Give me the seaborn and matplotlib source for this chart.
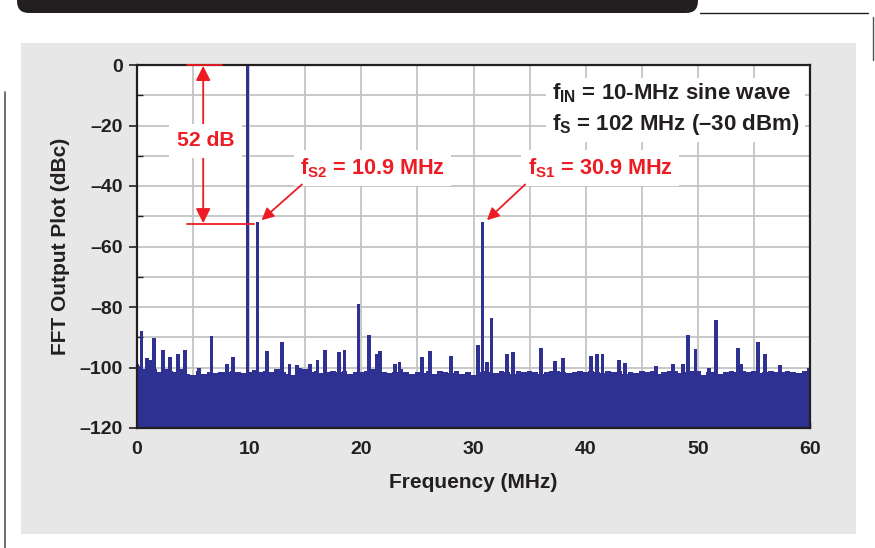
import numpy as np
import matplotlib
matplotlib.use("Agg")
import matplotlib.pyplot as plt
from matplotlib.patches import Rectangle, FancyBboxPatch
from matplotlib.lines import Line2D
from matplotlib.transforms import IdentityTransform
import seaborn as sns

# ---------------- data ----------------
# noise floor envelope, every 0.5 MHz from 0 to 60 MHz (dBc)
floor_freq = [i * 0.5 for i in range(121)]
floor_db = [
    -99.5, -100.5, -101.0, -100.5, -101.5, -100.5, -101.0, -101.5, -100.5, -102.0,
    -102.5, -101.0, -102.0, -101.5, -101.8, -101.5, -101.5, -101.0, -101.5, -101.8,
    -101.5, -100.8, -101.5, -101.0, -101.5, -100.5, -101.5, -102.0, -102.5, -100.0,
    -100.5, -101.5, -101.0, -101.8, -101.5, -101.0, -101.5, -101.0, -102.0, -101.5,
    -101.5, -101.0, -100.5, -101.0, -101.5, -101.8, -101.5, -100.5, -101.5, -102.0,
    -101.5, -101.8, -101.0, -102.0, -101.0, -101.5, -101.8, -101.0, -102.0, -101.5,
    -102.5, -101.5, -101.0, -101.5, -101.8, -101.0, -101.5, -102.0, -101.2, -101.5,
    -101.0, -101.5, -102.0, -101.5, -101.2, -101.0, -101.5, -101.8, -101.5, -101.2,
    -101.5, -101.0, -101.5, -101.8, -101.0, -101.5, -101.2, -102.0, -101.5, -101.8,
    -101.2, -101.5, -101.0, -102.0, -101.5, -101.0, -101.2, -101.8, -101.5, -101.0,
    -101.2, -102.5, -101.5, -101.5, -102.0, -101.5, -101.2, -101.5, -101.0, -101.5,
    -101.2, -101.8, -101.5, -101.2, -101.5, -101.5, -101.2, -101.5, -101.8, -101.0,
    -100.5,
]

# discrete spectral lines (MHz, dBc)
spur_freq = [
    0.0, 0.4, 0.9, 1.2, 1.5, 2.3, 2.95, 3.65, 4.3, 5.5, 6.65, 8.0, 8.55,
    9.85, 10.75, 11.6, 12.9, 13.6, 14.3, 15.4, 16.1, 16.75, 18.0, 18.5,
    19.75, 20.7, 21.4, 21.7, 23.0, 23.4, 25.4, 26.1, 28.0, 30.4, 30.8,
    31.2, 31.6, 33.0, 33.5, 36.0, 37.3, 38.0, 40.5, 41.0, 41.5, 43.0,
    43.5, 46.3, 47.8, 48.7, 49.15, 49.8, 51.0, 51.6, 53.6, 53.9, 55.4,
    56.0, 57.3, 59.9,
]
spur_db = [
    -99.0, -88.0, -97.0, -97.6, -90.3, -94.2, -96.5, -95.5, -94.2, -100.0, -89.6, -98.9, -96.6,
    0.0, -52.0, -94.5, -91.6, -98.9, -99.3, -98.9, -97.6, -94.2, -94.9, -94.2,
    -79.0, -89.3, -95.5, -94.6, -98.9, -98.3, -96.5, -94.5, -96.2, -92.5, -52.0,
    -98.2, -83.6, -95.5, -95.0, -93.7, -98.0, -97.0, -96.2, -95.5, -95.5, -97.4,
    -98.5, -99.5, -99.0, -99.0, -89.3, -93.9, -100.0, -84.3, -93.6, -99.0, -91.6,
    -95.5, -99.2, -100.0,
]

x_ticks = [0, 10, 20, 30, 40, 50, 60]
x_tick_labels = ["0", "10", "20", "30", "40", "50", "60"]
y_ticks = [0, -20, -40, -60, -80, -100, -120]
y_tick_labels = ["0", "\u201320", "\u201340", "\u201360", "\u201380", "\u2013100", "\u2013120"]

# ---------------- style ----------------
sns.set_theme(style="whitegrid")
plt.rcParams["font.family"] = ["Liberation Sans", "DejaVu Sans"]
plt.rcParams["font.weight"] = "bold"
plt.rcParams["mathtext.fontset"] = "custom"
plt.rcParams["mathtext.rm"] = "Liberation Sans:bold"
plt.rcParams["mathtext.bf"] = "Liberation Sans:bold"
plt.rcParams["mathtext.it"] = "Liberation Sans:bold"

NAVY = "#2e3192"
RED = "#ed1c24"
DARK = "#231f20"
GRID = "#c4c4c4"
PANEL = "#e6e7e6"

W, H = 875, 548
fig = plt.figure(figsize=(W / 100, H / 100), dpi=100, facecolor="white")
px = IdentityTransform()

# page decorations (pixel coordinates, origin bottom-left)
fig.patches.append(Rectangle((21, H - 534), 835, 491, transform=px,
                             facecolor=PANEL, edgecolor="none", zorder=0))
fig.patches.append(FancyBboxPatch((17, H - 13), 681, 40,
                                  boxstyle="round,pad=0,rounding_size=12",
                                  transform=px, facecolor=DARK,
                                  edgecolor="none", zorder=0))
fig.lines.append(Line2D([700, 868], [H - 12.5, H - 12.5], transform=px,
                        color=DARK, lw=1.0))
fig.lines.append(Line2D([873, 873], [H - 17, H - 60], transform=px,
                        color="#555555", lw=1.0))
fig.lines.append(Line2D([5, 5], [H - 92, 0], transform=px,
                        color="#555555", lw=1.2))

ax = fig.add_axes([137 / W, 1 - 428 / H, 673 / W, 363 / H])
ax.set_zorder(3)
ax.set_facecolor("white")

# bars: noise floor + spectral lines, all from -120 dB up
floor_arr = np.array(floor_db)
ax.bar(floor_freq, floor_arr + 120, bottom=-120, width=0.5, color=NAVY,
       linewidth=0, zorder=2)
spur_arr = np.array(spur_db)
ax.bar(spur_freq, spur_arr + 120, bottom=-120, width=0.34, color=NAVY,
       linewidth=0, zorder=2)

ax.set_xlim(0, 60)
ax.set_ylim(-120, 0)
ax.set_xticks(x_ticks)
ax.set_xticklabels(x_tick_labels)
ax.set_yticks(y_ticks)
ax.set_yticklabels(y_tick_labels)
ax.set_xticks(np.arange(5, 60, 10), minor=True)
ax.set_yticks(np.arange(-110, 0, 20), minor=True)
ax.set_axisbelow(True)
ax.grid(which="both", color=GRID, lw=1.3)
for s in ax.spines.values():
    s.set_visible(True)
    s.set_color(DARK)
    s.set_linewidth(1.6)

ax.tick_params(axis="y", which="major", direction="out", length=6, width=1.2,
               color=DARK, pad=4, labelsize=14, labelcolor=DARK, left=True)
ax.tick_params(axis="y", which="minor", direction="in", length=4, width=1.0,
               color=DARK, left=True)
ax.tick_params(axis="x", which="both", direction="in", length=4, width=1.0,
               color=DARK, pad=9, labelsize=14, labelcolor=DARK, bottom=True)
for lab in ax.get_xticklabels() + ax.get_yticklabels():
    lab.set_fontweight("bold")

ax.set_xlabel("Frequency (MHz)", fontsize=15, fontweight="bold", color=DARK, labelpad=11)
ax.set_ylabel("FFT Output Plot (dBc)", fontsize=15, fontweight="bold", color=DARK, labelpad=7)

# ---------------- annotations ----------------
ax.plot([4.5, 7.6], [0, 0], color=RED, lw=1.3, zorder=5, clip_on=False)
ax.plot([4.5, 10.4], [-52.6, -52.6], color=RED, lw=1.3, zorder=5)
ax.annotate("", xy=(5.9, -0.3), xytext=(5.9, -52.3),
            arrowprops=dict(arrowstyle="<|-|>", color=RED, lw=1.3,
                            mutation_scale=22, shrinkA=0, shrinkB=0), zorder=5)
ax.text(6.1, -25.0, "52 dB", color=RED, fontsize=15.2, fontweight="bold",
        ha="center", va="center", zorder=6,
        bbox=dict(boxstyle="square,pad=0.35", fc="white", ec="none"))

ax.text(21.0, -34.0, r"f$_{\mathbf{S2}}$ = 10.9 MHz", color=RED, fontsize=15.6,
        fontweight="bold", ha="center", va="center", zorder=6,
        bbox=dict(boxstyle="square,pad=0.3", fc="white", ec="none"))
ax.annotate("", xy=(11.1, -51.3), xytext=(14.7, -39.5),
            arrowprops=dict(arrowstyle="-|>", color=RED, lw=1.3,
                            mutation_scale=18, shrinkA=0, shrinkB=0), zorder=6)

ax.text(41.3, -34.0, r"f$_{\mathbf{S1}}$ = 30.9 MHz", color=RED, fontsize=15.6,
        fontweight="bold", ha="center", va="center", zorder=6,
        bbox=dict(boxstyle="square,pad=0.3", fc="white", ec="none"))
ax.annotate("", xy=(31.2, -51.3), xytext=(34.6, -39.5),
            arrowprops=dict(arrowstyle="-|>", color=RED, lw=1.3,
                            mutation_scale=18, shrinkA=0, shrinkB=0), zorder=6)

ax.text(37.0, -14.6, "f$_{\\mathbf{IN}}$ = 10-MHz sine wave\nf$_{\\mathbf{S}}$ = 102 MHz (\u201330 dBm)",
        color=DARK, fontsize=16, fontweight="bold", ha="left", va="center",
        linespacing=1.35, zorder=6,
        bbox=dict(boxstyle="square,pad=0.25", fc="white", ec="none"))

fig.savefig("out.png", dpi=100, facecolor="white")
